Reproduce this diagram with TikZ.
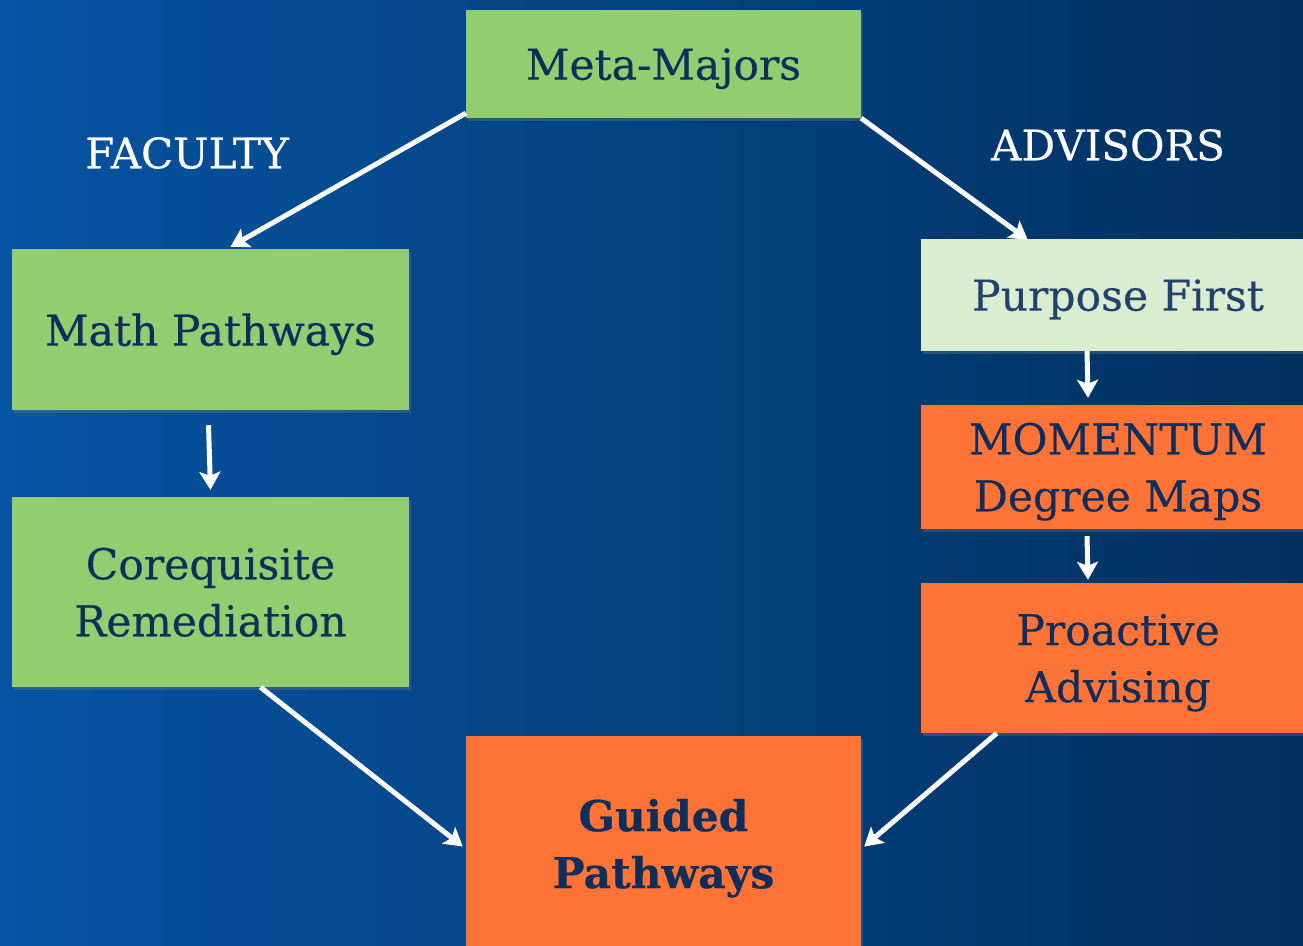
\documentclass[tikz,border=0pt]{standalone}
\usepackage{fontspec}
\setmainfont{DejaVu Serif}[FakeBold=0.4]
\usetikzlibrary{arrows.meta,shadows,calc}
\definecolor{bgL}{RGB}{6,84,162}
\definecolor{bgR}{RGB}{0,48,94}
\definecolor{grn}{RGB}{146,205,111}
\definecolor{lgrn}{RGB}{218,237,209}
\definecolor{orng}{RGB}{255,115,54}
\definecolor{navy}{RGB}{14,46,92}
\definecolor{pnavy}{RGB}{36,64,108}
\tikzset{
  box/.style={rectangle, inner sep=0pt, align=center, text=navy, text depth=0pt,
    font=\fontsize{42.5}{57}\selectfont,
    drop shadow={opacity=0.3, shadow xshift=2pt, shadow yshift=-3pt}},
  lab/.style={text=white, font=\fontsize{42}{48}\selectfont},
  conn/.style={draw=white, line width=5pt, -{Stealth[length=18pt,width=21pt,inset=4pt]}}
}
\begin{document}
\begin{tikzpicture}[x=1pt,y=-1pt]
\shade[left color=bgL, right color=bgR] (0,0) rectangle (1303,945);
\useasboundingbox (0,0) rectangle (1303,945);

\node[box, fill=grn, minimum width=395pt, minimum height=108pt] (meta) at (663.5,64) {Meta-Majors};
\node[lab] (fac) at (187,153) {FACULTY};
\node[lab] (adv) at (1108,145) {ADVISORS};
\node[box, fill=grn, minimum width=397pt, minimum height=161pt] (math) at (210.5,329.5) {Math Pathways};
\node[box, fill=grn, minimum width=397pt, minimum height=190pt] (coreq) at (210.5,592) {Corequisite\\Remediation};
\node[box, fill=lgrn, text=pnavy, minimum width=382pt, minimum height=112pt] (purp) at (1112,295) {\hspace*{12pt}Purpose First};
\node[box, fill=orng, minimum width=382pt, minimum height=124pt] (mom) at (1112,467) {\hspace*{12pt}MOMENTUM\\\hspace*{12pt}Degree Maps};
\node[box, fill=orng, minimum width=382pt, minimum height=150pt] (pro) at (1112,658) {\hspace*{12pt}Proactive\\\hspace*{12pt}Advising};
\node[box, fill=orng, minimum width=395pt, minimum height=215pt, font=\fontsize{42.5}{57}\selectfont\bfseries] (gp) at (663.5,843.5) {Guided\\Pathways};

\draw[conn] ([yshift=5pt]meta.south west) -- ([xshift=20pt,yshift=2pt]math.north);
\draw[conn] (meta.south east) -- ([xshift=107pt,yshift=-1pt]purp.north west);
\draw[conn] ([xshift=-2pt,yshift=-15pt]math.south) -- ([yshift=7pt]coreq.north);
\draw[conn] ([xshift=-25pt]purp.south) -- ([xshift=-24pt,yshift=7pt]mom.north);
\draw[conn] ([xshift=-25pt,yshift=-7pt]mom.south) -- ([xshift=-24pt,yshift=3pt]pro.north);
\draw[conn] ([xshift=50pt]coreq.south) -- ([xshift=-3pt,yshift=-3pt]gp.west);
\draw[conn] ([xshift=76pt]pro.south west) -- ([xshift=3pt,yshift=-3pt]gp.east);
\end{tikzpicture}
\end{document}
